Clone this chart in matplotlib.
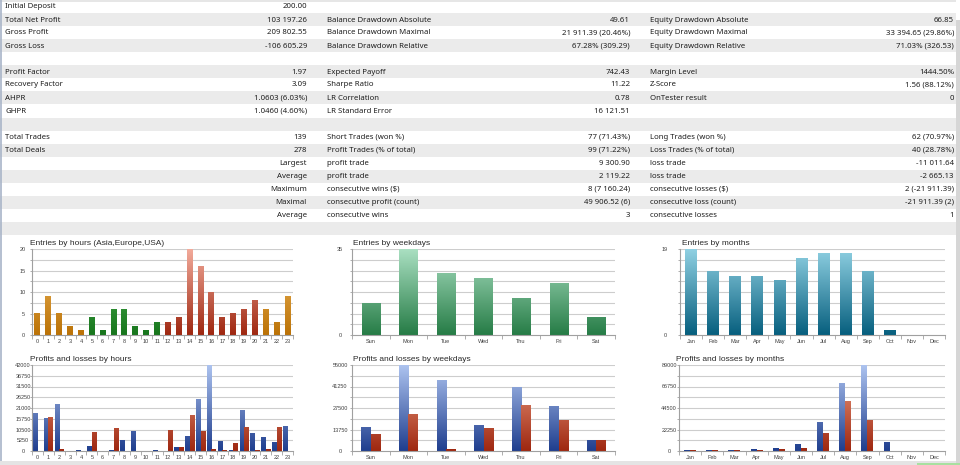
import numpy as np
import matplotlib
matplotlib.use('Agg')
import matplotlib.pyplot as plt
from matplotlib.patches import Rectangle
from matplotlib.colors import to_rgb

# ---------------- data ----------------
col1_labels = ["Initial Deposit", "Total Net Profit", "Gross Profit", "Gross Loss", "",
               "Profit Factor", "Recovery Factor", "AHPR", "GHPR", "",
               "Total Trades", "Total Deals", "", "", "", "", "", ""]
col1_values = ["200.00", "103 197.26", "209 802.55", "-106 605.29", "",
               "1.97", "3.09", "1.0603 (6.03%)", "1.0460 (4.60%)", "",
               "139", "278", "Largest", "Average", "Maximum", "Maximal", "Average", ""]
col2_labels = ["", "Balance Drawdown Absolute", "Balance Drawdown Maximal", "Balance Drawdown Relative", "",
               "Expected Payoff", "Sharpe Ratio", "LR Correlation", "LR Standard Error", "",
               "Short Trades (won %)", "Profit Trades (% of total)", "profit trade", "profit trade",
               "consecutive wins ($)", "consecutive profit (count)", "consecutive wins", ""]
col2_values = ["", "49.61", "21 911.39 (20.46%)", "67.28% (309.29)", "",
               "742.43", "11.22", "0.78", "16 121.51", "",
               "77 (71.43%)", "99 (71.22%)", "9 300.90", "2 119.22",
               "8 (7 160.24)", "49 906.52 (6)", "3", ""]
col3_labels = ["", "Equity Drawdown Absolute", "Equity Drawdown Maximal", "Equity Drawdown Relative", "",
               "Margin Level", "Z-Score", "OnTester result", "", "",
               "Long Trades (won %)", "Loss Trades (% of total)", "loss trade", "loss trade",
               "consecutive losses ($)", "consecutive loss (count)", "consecutive losses", ""]
col3_values = ["", "66.85", "33 394.65 (29.86%)", "71.03% (326.53)", "",
               "1444.50%", "1.56 (88.12%)", "0", "", "",
               "62 (70.97%)", "40 (28.78%)", "-11 011.64", "-2 665.13",
               "2 (-21 911.39)", "-21 911.39 (2)", "1", ""]

hours = [str(h) for h in range(24)]
hour_session = ["Asia"] * 5 + ["Europe"] * 7 + ["USA"] * 9 + ["Asia"] * 3
hour_entries = [5, 9, 5, 2, 1, 4, 1, 6, 6, 2, 1, 3, 3, 4, 20, 16, 10, 4, 5, 6, 8, 6, 3, 9]
weekdays = ["Sun", "Mon", "Tue", "Wed", "Thu", "Fri", "Sat"]
weekday_entries = [13, 35, 25, 23, 15, 21, 7]
months = ["Jan", "Feb", "Mar", "Apr", "May", "Jun", "Jul", "Aug", "Sep", "Oct", "Nov", "Dec"]
month_entries = [19, 14, 13, 13, 12, 17, 18, 18, 14, 1, 0, 0]

hour_profit = [18400, 15950, 22790, 0, 300, 2100, 0, 300, 4900, 9450, 0, 200,
               0, 1600, 7150, 25200, 42000, 4700, 300, 19700, 8600, 6350, 4100, 12200]
hour_loss = [0, 16280, 800, 0, 0, 9100, 0, 10750, 0, 0, 0, 0,
             9900, 1600, 17400, 9450, 600, 200, 3900, 11550, 200, 600, 11550, 0]
weekday_profit = [15140, 55000, 44770, 15990, 40930, 28350, 7030]
weekday_loss = [10870, 23660, 640, 14070, 28780, 19610, 6820]
month_profit = [500, 300, 400, 1720, 2070, 6210, 28980, 69340, 89000, 8620, 0, 0]
month_loss = [500, 300, 300, 1000, 1700, 2070, 17600, 51060, 31050, 0, 0, 0]

# ---------------- figure ----------------
W, H = 960, 465
fig = plt.figure(figsize=(9.6, 4.65), dpi=100)
fig.patch.set_facecolor('white')
bg = fig.add_axes([0, 0, 1, 1])
bg.set_xlim(0, W)
bg.set_ylim(H, 0)
bg.axis('off')

TFONT = ['Noto Sans', 'DejaVu Sans']
CFONT = ['Liberation Sans', 'DejaVu Sans']
TCOL = '#1e1e1e'
TSIZE = 5.6

ROW_H = 13
ROW0 = 0.5
bg.add_patch(Rectangle((0, 0), 956, 2.5, color='#e6e6e6', lw=0))
cols = [(col1_labels, col1_values, 5, 307),
        (col2_labels, col2_values, 327, 630),
        (col3_labels, col3_values, 650, 954)]
for i in range(len(col1_labels)):
    y0 = ROW0 + ROW_H * i
    if i % 2 == 1:
        bg.add_patch(Rectangle((0, y0), 956, ROW_H, color='#ebebeb', lw=0))
    yc = y0 + ROW_H / 2
    for labels, values, lx, vx in cols:
        if labels[i]:
            bg.text(lx, yc, labels[i], ha='left', va='center', fontsize=TSIZE,
                    family=TFONT, color=TCOL)
        if values[i]:
            bg.text(vx, yc, values[i], ha='right', va='center', fontsize=TSIZE,
                    family=TFONT, color=TCOL)

# left border, scrollbar, bottom band
bg.plot([1, 1], [0, H], color='#a8b4c8', lw=1.2)
bg.add_patch(Rectangle((956, 20), 4, H - 20, color='#d6d6d6', lw=0))
bg.add_patch(Rectangle((0, 461), 956, 4, color='#e4e4e4', lw=0, zorder=5))
bg.add_patch(Rectangle((917, 463), 43, 2, color='#a8e0a0', lw=0, zorder=6))


def px_axes(x0, x1, ytop, ybot):
    return fig.add_axes([x0 / W, 1 - ybot / H, (x1 - x0) / W, (ybot - ytop) / H])


def grad_bars(ax, xs, hs, width, dark, light, ymax):
    dark = np.array(to_rgb(dark))
    light = np.array(to_rgb(light))
    bars = ax.bar(xs, hs, width, color=dark, edgecolor='none', zorder=2)
    for b, hv in zip(bars, hs):
        if hv <= 0:
            continue
        f = np.linspace(0, hv / ymax, 64)[:, None, None]
        img = dark + (light - dark) * f
        ax.imshow(img, extent=(b.get_x(), b.get_x() + b.get_width(), 0, hv),
                  origin='lower', aspect='auto', interpolation='bilinear', zorder=3)
    return bars


def style(ax, labels, ymax, every, ypad_px, title, tx, ty):
    n = len(labels)
    ax.set_xlim(-0.5, n - 0.5)
    ax.set_ylim(0, ymax)
    ax.set_facecolor('none')
    for s in ['top', 'right']:
        ax.spines[s].set_visible(False)
    for s in ['left', 'bottom']:
        ax.spines[s].set_color('#a0a0a0')
        ax.spines[s].set_linewidth(0.8)
        ax.spines[s].set_zorder(4)
    grid = np.linspace(0, ymax, 9)
    for g in grid[1:]:
        ax.axhline(g, color='#cdcdcd', lw=0.8, zorder=1)
    ax.set_yticks(grid)
    ax.set_yticklabels([('%d' % round(v)) if k % every == 0 else '' for k, v in enumerate(grid)],
                       family=CFONT, fontsize=4, color='#404040')
    for lab in ax.get_yticklabels():
        lab.set_horizontalalignment('center')
    ax.tick_params(axis='y', length=1.4, width=0.6, color='#a0a0a0', pad=(ypad_px - 2) * 0.72)
    ax.set_xticks(range(n))
    ax.set_xticklabels(labels, family=CFONT, fontsize=4, color='#404040')
    ax.set_xticks(np.arange(n + 1) - 0.5, minor=True)
    ax.tick_params(axis='x', which='major', length=0, pad=3.2)
    ax.tick_params(axis='x', which='minor', length=3, width=0.6, color='#a0a0a0')
    bg.text(tx, ty, title, ha='left', va='center', fontsize=6, family=CFONT, color='#2a2a2a')


sess_colors = {"Asia": ('#bb7206', '#f2bd66'),
               "Europe": ('#17751c', '#5cc062'),
               "USA": ('#9e2710', '#f2aa9a')}

# Entries by hours
ax1 = px_axes(32, 293, 249, 335)
ym = max(hour_entries)
for k in range(len(hours)):
    d, l = sess_colors[hour_session[k]]
    grad_bars(ax1, [k], [hour_entries[k]], 0.55, d, l, ym)
style(ax1, hours, ym, 2, 9, "Entries by hours (Asia,Europe,USA)", 30, 243)

# Entries by weekdays
ax2 = px_axes(352, 615, 249, 335)
ym = max(weekday_entries)
grad_bars(ax2, range(len(weekdays)), weekday_entries, 0.48, '#267c46', '#a9dfc1', ym)
style(ax2, weekdays, ym, 8, 12, "Entries by weekdays", 353, 243)

# Entries by months
ax3 = px_axes(680, 945, 249, 335)
ym = max(month_entries)
grad_bars(ax3, range(len(months)), month_entries, 0.53, '#075f7e', '#8fd0e2', ym)
style(ax3, months, ym, 8, 15, "Entries by months", 682, 243)

BLUE = ('#1f3e8e', '#aec4f0')
RED = ('#9e2710', '#f2a488')

# Profits and losses by hours
ax4 = px_axes(32, 293, 365, 451)
ym = max(max(hour_profit), max(hour_loss))
x = np.arange(len(hours))
grad_bars(ax4, x - 0.205, hour_profit, 0.41, BLUE[0], BLUE[1], ym)
grad_bars(ax4, x + 0.205, hour_loss, 0.41, RED[0], RED[1], ym)
style(ax4, hours, ym, 1, 9, "Profits and losses by hours", 30, 359)

# Profits and losses by weekdays
ax5 = px_axes(352, 615, 365, 451)
ym = max(max(weekday_profit), max(weekday_loss))
x = np.arange(len(weekdays))
grad_bars(ax5, x - 0.125, weekday_profit, 0.25, BLUE[0], BLUE[1], ym)
grad_bars(ax5, x + 0.125, weekday_loss, 0.25, RED[0], RED[1], ym)
style(ax5, weekdays, ym, 2, 12, "Profits and losses by weekdays", 353, 359)

# Profits and losses by months
ax6 = px_axes(679, 945, 365, 451)
ym = max(max(month_profit), max(month_loss))
x = np.arange(len(months))
grad_bars(ax6, x - 0.135, month_profit, 0.27, BLUE[0], BLUE[1], ym)
grad_bars(ax6, x + 0.135, month_loss, 0.27, RED[0], RED[1], ym)
style(ax6, months, ym, 2, 10, "Profits and losses by months", 676, 359)

fig.savefig('out.png', dpi=100, facecolor='white')
